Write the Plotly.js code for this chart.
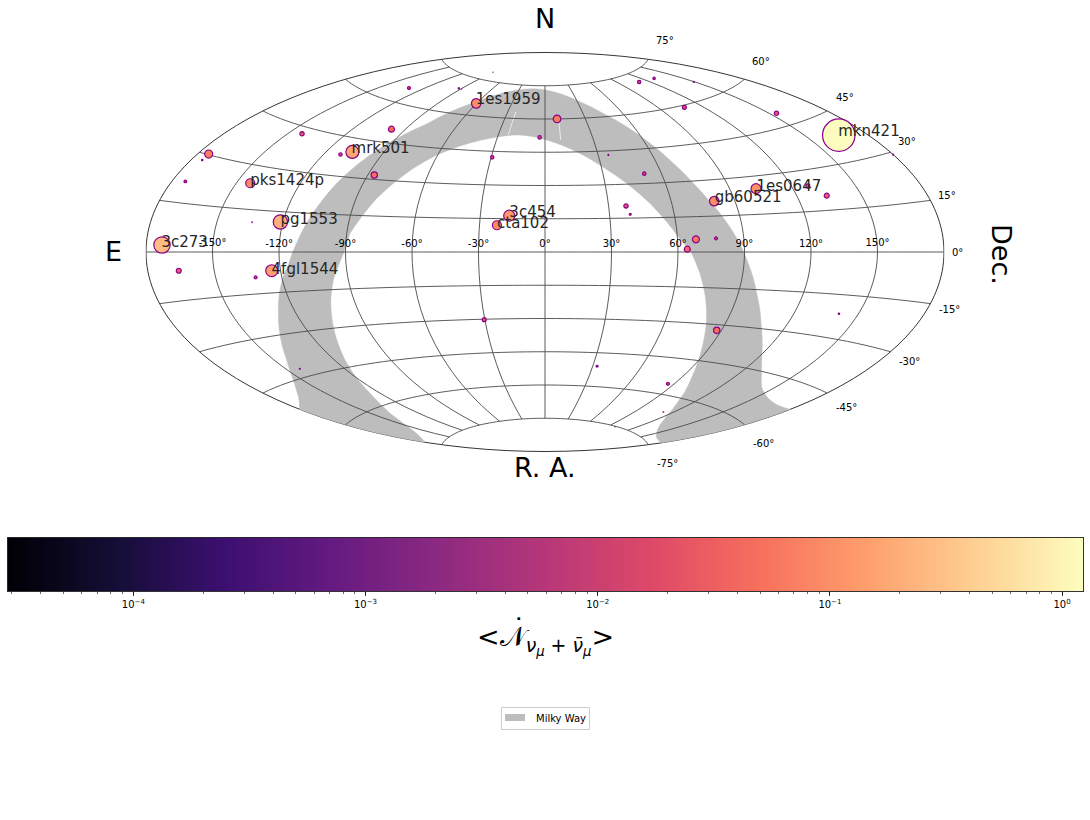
<!DOCTYPE html><html><head><meta charset="utf-8"><script src="https://cdn.plot.ly/plotly-3.0.1.min.js"></script></head><body style="margin:0;background:#fff"><div id="chart" style="width:1090px;height:820px"></div><script>
// Sources: right ascension (deg, wrapped), declination (deg), mean neutrino flux
var srcLon=[-172.9,-173.9,-174.9,-174.9,-142.9,-98.2,-131,-111.4,-106.6,-86.8,-143.5,-134,-121.2,-90.4,-92.6,-89.2,-60.4,9,-3.4,-29.4,35.7,51.2,38.2,39.6,-16.6,-22,64.2,110.8,130.3,107.8,149.4,153.7,166.4,179.9,102.6,127.8,133.9,80.3,68.3,77.4,-166,-131.9,-124,-143,-30.3,32.7,85.9,112.5,98.5,87.7,141];
var srcLat=[2.1,21.4,28.2,30.2,42.7,50.4,65.5,38.2,39.8,31.8,23.9,10.6,11.2,78.5,70,70,65.3,60,51.7,42.3,43.2,34.3,20.4,16.7,16.3,12,1.2,71.4,70.9,59.2,65.6,49.4,38.3,29.2,25.1,24.3,20.2,21.2,5.4,5.7,-5.8,-9.1,-6.9,-42.1,-30.2,-51,-55.6,-66,-75.2,-32.3,-21.6];
var srcFlux=[0.27,0.0116,0.0052,0.073,0.026,0.044,0.014,0.017,0.175,0.049,0.09,0.0023,0.21,0.0009,0.0052,0.0018,0.10,0.066,0.017,0.017,0.0036,0.017,0.026,0.008,0.13,0.09,0.044,0.017,0.0104,0.022,0.0036,0.026,1.2,0.0036,0.108,0.022,0.032,0.10,0.057,0.014,0.032,0.014,0.15,0.0036,0.022,0.008,0.014,0.0023,0.0009,0.049,0.0052];
// Named blazars (anchor of each label)
var nameText=['3c273','mrk501','pks1424p','pg1553','1es1959','3c454','cta102','mkn421','1es0647','gb60521','4fgl1544'];
var nameLon=[-173.2,-108.4,-144.2,-121.4,-63.4,-16.6,-22,167.9,103.3,81,-124];
var nameLat=[2.7,40.8,24.6,11.9,66.5,17.4,12.4,39,25.8,22.3,-6.6];
// Milky Way band outline
var mwLon=[-179.9,-167,-154.5,-143.9,-136.3,-128.2,-123.3,-119.3,-116.1,-112.2,-109.1,-105.9,-102.7,-98.8,-93.8,-87.8,-80.4,-73.5,-64.9,-54.1,-35.7,-9.9,12.8,32.3,45.6,55.4,62.7,68.7,73.7,78.2,81.2,86.8,91.9,98.5,107.2,121.3,142.5,157.2,171.4,179.9,
 179.9,150.5,133.3,114.3,103.3,93.1,85.1,80,75.6,70.5,66.2,60.4,55.9,49.7,40.8,31,20,7.1,-5.2,-16.1,-24.5,-34.4,-45.2,-50.2,-60.5,-69,-75.3,-80.3,-84.7,-88.5,-90.7,-92.7,-96.9,-100.8,-104,-109.2,-114.5,-120.3,-127.6,-138.7,-153.3,-179.9,-179.9];
var mwLat=[-52,-49.4,-44.8,-38.5,-31.7,-22.5,-15.3,-9.2,-4.9,3.3,11.1,19.1,27.3,35.1,42.5,48.9,54.4,60.4,64.7,68.7,72.2,73.5,71.8,67.3,61.5,55,47.1,38,29.1,20.9,16.1,5.6,-4.6,-16.5,-28,-40.1,-49.7,-52.1,-52.6,-52.1,
 -72.9,-72.3,-70.1,-64,-57.4,-48.8,-38,-28.4,-19.5,-9,-0.5,6.6,13.1,21.3,30.4,37.8,44.3,49,51.7,52.7,52.2,50.7,48.2,46.6,42.1,35.8,29,22.4,14.5,7.6,-0.1,-4,-11.2,-19,-25.5,-34.6,-42.2,-49.3,-56.5,-62.8,-68.5,-72.4,-52];
var crackLon=[-23.4,-23.6,null,10,9.8];
var crackLat=[63,52.5,null,58,50.5];
// Graticule and tick labels
var meridians=[-150,-120,-90,-60,-30,0,30,60,90,120,150];
var parallels=[-75,-60,-45,-30,-15,0,15,30,45,60,75];
var lonTickText=['-150°','-120°','-90°','-60°','-30°','0°','30°','60°','90°','120°','150°'];
var latTickText=['75°','60°','45°','30°','15°','0°','-15°','-30°','-45°','-60°','-75°'];
var cbarTickVals=[1e-4,1e-3,1e-2,1e-1,1];
var cbarTickText=['10<sup>−4</sup>','10<sup>−3</sup>','10<sup>−2</sup>','10<sup>−1</sup>','10<sup>0</sup>'];
var colourLogMin=-4.542, colourLogMax=0.09;
var magma=[[0,'#000004'],[0.1,'#140e36'],[0.2,'#3b0f70'],[0.3,'#641a80'],[0.4,'#8c2981'],[0.5,'#b73779'],[0.6,'#de4968'],[0.7,'#f7705c'],[0.8,'#fe9f6d'],[0.9,'#fecf92'],[1,'#fcfdbf']];
var font='DejaVu Sans';
var W=1090,H=820;
function px(x){return x/W} function py(y){return 1-y/H}

var gLon=[],gLat=[];
meridians.forEach(function(m){for(var a=-75;a<=75;a+=5){gLon.push(m);gLat.push(a);}gLon.push(null);gLat.push(null);});
parallels.forEach(function(p){for(var o=-179.9;o<=180;o+=5){gLon.push(o);gLat.push(p);}gLon.push(179.9);gLat.push(p);gLon.push(null);gLat.push(null);});

var ramp=[],rampZ=[];
for(var i=0;i<=256;i++){var l=colourLogMin+(colourLogMax-colourLogMin)*i/256;ramp.push(Math.pow(10,l));if(i<256)rampZ.push(colourLogMin+(colourLogMax-colourLogMin)*(i+0.5)/256);}

var traces=[
 {type:'scattergeo',mode:'lines',name:'Milky Way',lon:mwLon,lat:mwLat,fill:'toself',fillcolor:'#bdbdbd',line:{color:'#bdbdbd',width:0.5},hoverinfo:'skip',showlegend:false},
 {type:'scattergeo',mode:'lines',lon:crackLon,lat:crackLat,line:{color:'#ffffff',width:0.7},hoverinfo:'skip',showlegend:false},
 {type:'scattergeo',mode:'lines',lon:gLon,lat:gLat,line:{color:'#4a4a4a',width:0.9},hoverinfo:'skip',showlegend:false},
 {type:'scattergeo',mode:'markers',lon:srcLon,lat:srcLat,showlegend:false,hoverinfo:'skip',
  marker:{size:srcFlux.map(function(v){return Math.max(0.4,2*16.7*Math.sqrt(Math.min(v,1))-1)}),color:srcFlux.map(function(v){return Math.log10(v)}),coloraxis:'coloraxis',line:{color:'#8b008b',width:1.2},opacity:1}},
 {type:'scattergeo',mode:'text',lon:meridians,lat:meridians.map(function(){return 1}),text:lonTickText,textposition:'top center',textfont:{family:font,size:10,color:'#000'},hoverinfo:'skip',showlegend:false},
 {type:'scattergeo',mode:'text',lon:nameLon,lat:nameLat,text:nameText,textposition:'middle right',textfont:{family:font,size:15,color:'#262626'},hoverinfo:'skip',showlegend:false},
 {type:'heatmap',x:ramp,y:[0,1],z:[rampZ],coloraxis:'coloraxis',xaxis:'x',yaxis:'y',hoverinfo:'skip',showlegend:false}
];

var latLabelX=[665,761,845,907,947,957,949,909,846,763,667], latLabelY=[40,62,97,142,195,252,309,362,407,443,464];
var ann=latTickText.map(function(t,i){return {xref:'paper',yref:'paper',x:px(latLabelX[i]),y:py(latLabelY[i]),text:t,showarrow:false,xanchor:'center',yanchor:'middle',font:{family:font,size:10,color:'#000'}}});
function big(t,x,y,s,rot){return {xref:'paper',yref:'paper',x:px(x),y:py(y),text:t,showarrow:false,xanchor:'center',yanchor:'middle',textangle:rot||0,font:{family:font,size:s,color:'#000'}}}
ann.push(big('N',545,18,27));ann.push(big('E',113,251,27));ann.push(big('R. A.',545,468,27));ann.push(big('Dec.',1002,254,27,90));
ann.push(big('&lt;𝒩<sub><i>ν<sub>μ</sub></i> + <i>ν̄<sub>μ</sub></i></sub>&gt;',545,640,27));
ann.push(big('˙',518.5,628,27));
ann.push({xref:'paper',yref:'paper',x:px(534),y:py(718),text:'Milky Way',showarrow:false,xanchor:'left',yanchor:'middle',font:{family:font,size:10,color:'#000'}});

var layout={width:W,height:H,margin:{l:0,r:0,t:0,b:0},paper_bgcolor:'#fff',plot_bgcolor:'#fff',font:{family:font,size:10,color:'#000'},
 geo:{domain:{x:[px(146),px(944)],y:[py(451.5),py(52.5)]},projection:{type:'aitoff'},bgcolor:'rgba(0,0,0,0)',showframe:true,framecolor:'#000',framewidth:0.8,
  showland:false,showocean:false,showlakes:false,showrivers:false,showcountries:false,showsubunits:false,showcoastlines:false,
  lonaxis:{showgrid:false},lataxis:{showgrid:false}},
 coloraxis:{cmin:colourLogMin,cmax:colourLogMax,colorscale:magma,showscale:false},
 xaxis:{type:'log',domain:[px(7.5),px(1083)],range:[colourLogMin,colourLogMax],tickmode:'array',tickvals:cbarTickVals,ticktext:cbarTickText,ticks:'outside',ticklen:4,tickwidth:0.8,tickcolor:'#000',showline:true,linecolor:'#000',linewidth:0.8,mirror:true,showgrid:false,zeroline:false,tickfont:{family:font,size:10,color:'#000'},minor:{ticks:'outside',dtick:'D1',ticklen:2,tickwidth:0.6,tickcolor:'#000',showgrid:false},anchor:'y'},
 yaxis:{domain:[py(591),py(537.5)],range:[0,1],showticklabels:false,ticks:'',showgrid:false,zeroline:false,showline:true,linecolor:'#000',linewidth:0.8,mirror:true,anchor:'x',fixedrange:true},
 shapes:[
  {type:'rect',xref:'paper',yref:'paper',x0:px(501.5),x1:px(589.5),y0:py(729.5),y1:py(707.5),fillcolor:'#fff',line:{color:'#cccccc',width:1}},
  {type:'rect',xref:'paper',yref:'paper',x0:px(505),x1:px(525),y0:py(721),y1:py(714),fillcolor:'#bdbdbd',line:{width:0}}
 ],
 annotations:ann,showlegend:false};
Plotly.newPlot('chart',traces,layout,{displayModeBar:false,staticPlot:true});
</script></body></html>
